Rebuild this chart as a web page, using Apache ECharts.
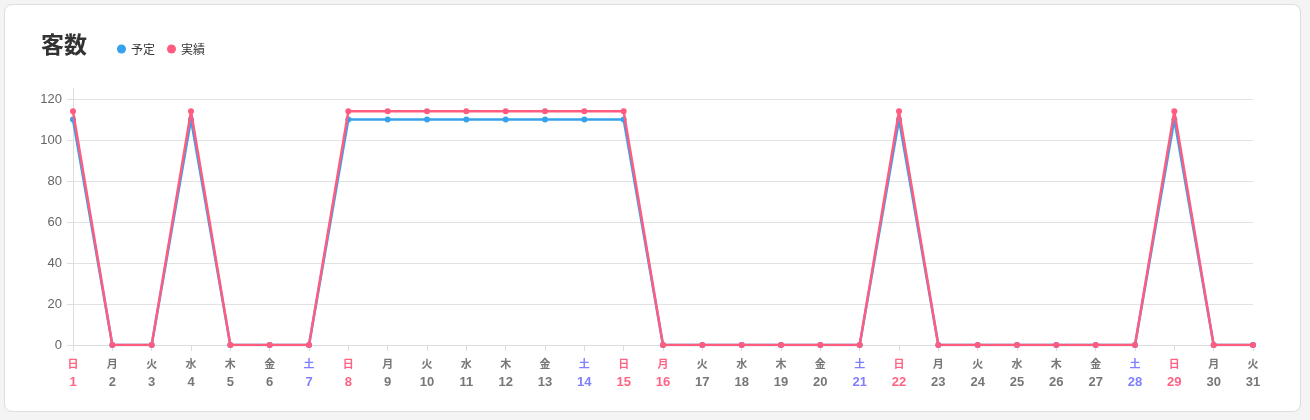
<!DOCTYPE html>
<html>
<head>
<meta charset="utf-8">
<script src="https://cdn.jsdelivr.net/npm/echarts@6/dist/echarts.min.js"></script>
<style>
html,body{margin:0;padding:0;width:1310px;height:420px;background:#f4f4f4;overflow:hidden;font-family:"Noto Sans CJK JP","Noto Sans",sans-serif;}
#card{position:absolute;left:4px;top:4px;width:1297px;height:408px;background:#fff;border:1px solid #dedede;border-radius:8px;box-sizing:border-box;}
#chart{position:absolute;left:0;top:0;width:1310px;height:420px;}
</style>
</head>
<body>
<div id="card"></div>
<div id="chart"></div>
<script>
const days = [1,2,3,4,5,6,7,8,9,10,11,12,13,14,15,16,17,18,19,20,21,22,23,24,25,26,27,28,29,30,31];
const weekdays = ['日','月','火','水','木','金','土','日','月','火','水','木','金','土','日','月','火','水','木','金','土','日','月','火','水','木','金','土','日','月','火'];
const holidays = [16];
const planValues = [110,0,0,110,0,0,0,110,110,110,110,110,110,110,110,0,0,0,0,0,0,110,0,0,0,0,0,0,110,0,0];
const actualValues = [114,0,0,114,0,0,0,114,114,114,114,114,114,114,114,0,0,0,0,0,0,114,0,0,0,0,0,0,114,0,0];
const yTicks = [0,20,40,60,80,100,120];

const categories = days.map(String);
function dayType(i){
  if (weekdays[i] === '日' || holidays.indexOf(days[i]) >= 0) return 'r';
  if (weekdays[i] === '土') return 'b';
  return 'g';
}
const chart = echarts.init(document.getElementById('chart'));
const fontFamily = '"Noto Sans CJK JP","Noto Sans",sans-serif';
const numFont = '"Liberation Sans","Noto Sans",sans-serif';
const rich = {};
[['r','#ff6384'],['b','#7f7fff'],['g','#777777']].forEach(([k,c])=>{
  rich[k+'w'] = {color:c, fontSize:11, fontWeight:'bold', lineHeight:18, fontFamily};
  rich[k+'n'] = {color:c, fontSize:13, fontWeight:'bold', lineHeight:18, fontFamily:numFont};
});
chart.setOption({
  animation:false,
  title:{text:'客数', left:36, top:28, textStyle:{fontSize:23, fontWeight:'bold', color:'#333', fontFamily}},
  legend:{left:112, top:38, icon:'circle', itemWidth:9, itemHeight:9, itemGap:12,
    textStyle:{fontSize:12, color:'#333', fontFamily}, data:['予定','実績']},
  grid:{left:73, right:57, top:88, bottom:75, containLabel:false},
  xAxis:{type:'category', data:categories, boundaryGap:false,
    axisLine:{show:true, lineStyle:{color:'#dddddd', width:1}},
    axisTick:{show:true, alignWithLabel:true, length:6, lineStyle:{color:'#dddddd'}},
    axisLabel:{interval:0, margin:10, formatter:function(v, i){
      const t = dayType(i);
      return '{'+t+'w|'+weekdays[i]+'}\n{'+t+'n|'+v+'}';
    }, rich:rich},
    splitLine:{show:false}
  },
  yAxis:{type:'value', min:yTicks[0], max:125.4, interval:yTicks[1]-yTicks[0],
    axisLine:{show:true, lineStyle:{color:'#dddddd'}},
    axisTick:{show:true, length:6, lineStyle:{color:'#dddddd'}},
    axisLabel:{showMaxLabel:false, color:'#666', fontSize:13, margin:11, fontFamily:numFont},
    splitLine:{show:true, showMaxLine:false, lineStyle:{color:'#e2e2e2'}}
  },
  series:[
    {name:'予定', type:'line', data:planValues, color:'#36a2eb', symbol:'circle', symbolSize:6,
      lineStyle:{width:2.5, color:'#36a2eb'}, itemStyle:{color:'#36a2eb'}, z:2},
    {name:'実績', type:'line', data:actualValues, color:'#ff5c80', symbol:'circle', symbolSize:6,
      lineStyle:{width:2.5, color:'#ff5c80'}, itemStyle:{color:'#ff5c80'}, z:3}
  ]
});
</script>
</body>
</html>
